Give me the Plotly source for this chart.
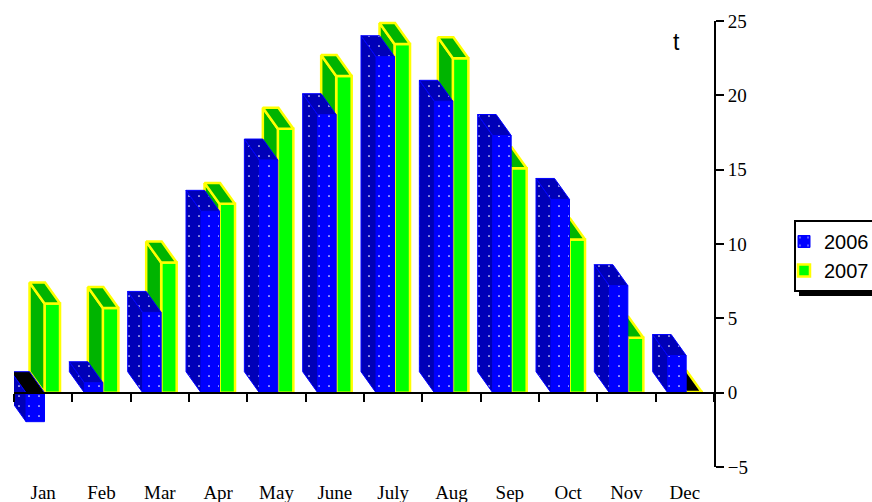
import plotly.graph_objects as go

months = ["Jan", "Feb", "Mar", "Apr", "May", "June", "July", "Aug", "Sep", "Oct", "Nov", "Dec"]
values_2006 = [-1.95, 0.67, 5.4, 12.2, 15.65, 18.7, 22.6, 19.6, 17.3, 13.0, 7.2, 2.5]
values_2007 = [6.0, 5.7, 8.75, 12.7, 17.75, 21.3, 23.45, 22.5, 15.1, 10.3, 3.7, 0.05]
y_ticks = [-5, 0, 5, 10, 15, 20, 25]

DX, DY = 0.257, 1.41  # apparent depth of each block, in axis units
BLUE_OFF, BLUE_W = 0.206, 0.317
GREEN_OFF, GREEN_W = 0.523, 0.266
idx = list(range(len(months)))

# page pixel -> paper fraction (plot area spans x 14..714, y 21..467 on the page)
def px(x):
    return (x - 14) / 700


def py(y):
    return (467 - y) / 446


def dots(bg):
    return dict(shape=".", size=10, solidity=0.022, fgcolor="white", bgcolor=bg, fillmode="replace")


def block_faces(fig, values, off, width, line, side_col, patterned, lw, xa, ya, name):
    for i, v in enumerate(values):
        x0, x1 = i + off, i + off + width
        top = max(v, 0)
        low = min(v, 0)
        side_x = [x0, x0, x0 - DX, x0 - DX, x0]
        side_y = [low, top, top + DY, low + DY, low]
        top_x = [x0, x1, x1 - DX, x0 - DX, x0]
        top_y = [top, top, top + DY, top + DY, top]
        flat = v <= 0.1
        for fx, fy, col in ((side_x, side_y, side_col), (top_x, top_y, "black" if flat else side_col)):
            kw = {}
            if patterned and col != "black":
                kw["fillpattern"] = dots(col)
            fig.add_trace(go.Scatter(
                x=fx, y=fy, mode="lines", fill="toself", fillcolor=col,
                line=dict(color=line, width=lw), showlegend=False, hoverinfo="skip",
                cliponaxis=False, xaxis=xa, yaxis=ya, name=name, **kw))


fig = go.Figure()

# 2007 in the back subplot
fig.add_trace(go.Bar(
    x=idx, y=values_2007, name="2007", offset=GREEN_OFF, width=GREEN_W,
    marker=dict(color="#00ff00", line=dict(color="#ffff00", width=2.5)),
    cliponaxis=False, xaxis="x", yaxis="y"))
block_faces(fig, values_2007, GREEN_OFF, GREEN_W, "#ffff00", "#00b400", False, 2.5, "x", "y", "2007")

# 2006 in the overlaid subplot, in front of the 2007 blocks
fig.add_trace(go.Bar(
    x=idx, y=values_2006, name="2006", offset=BLUE_OFF, width=BLUE_W,
    marker=dict(color="#0000ff", line=dict(color="#0000ff", width=1), pattern=dots("#0000ff")),
    cliponaxis=False, xaxis="x2", yaxis="y2"))
block_faces(fig, values_2006, BLUE_OFF, BLUE_W, "#0000ff", "#0000b8", True, 1, "x2", "y2", "2006")

serif = dict(family="Liberation Serif", size=19, color="black")

fig.update_layout(
    width=872, height=502, autosize=False,
    margin=dict(l=14, r=158, t=21, b=35, autoexpand=False),
    paper_bgcolor="white", plot_bgcolor="white",
    barmode="overlay",
    xaxis=dict(range=[0, 12], domain=[0, 1], anchor="free", position=1 / 6,
               tickmode="array", tickvals=idx + [12], showticklabels=False,
               ticks="outside", ticklen=8, tickwidth=2, tickcolor="black",
               showline=True, linecolor="black", linewidth=2, showgrid=False,
               zeroline=False, layer="above traces", automargin=False),
    xaxis2=dict(range=[0, 12], overlaying="x", anchor="free", position=0,
                tickmode="array", tickvals=[i + 0.5 for i in idx], ticktext=months,
                ticks="outside", ticklen=8, tickcolor="rgba(0,0,0,0)", tickfont=serif,
                showline=False, showgrid=False, zeroline=False, automargin=False),
    yaxis=dict(range=[-5, 25], side="right", tickmode="array", tickvals=y_ticks,
               ticks="outside", ticklen=8, tickwidth=2, tickcolor="black", tickfont=serif,
               showline=True, linecolor="black", linewidth=2, showgrid=False,
               zeroline=False, layer="above traces", automargin=False),
    yaxis2=dict(range=[-5, 25], overlaying="y", visible=False, showgrid=False, zeroline=False),
    showlegend=True,
    legend=dict(x=px(794), xanchor="left", y=py(220), yanchor="top",
                bgcolor="white", bordercolor="black", borderwidth=2,
                font=dict(family="Liberation Sans", size=20, color="black"),
                traceorder="reversed", itemwidth=30, indentation=-12,
                entrywidth=40, entrywidthmode="pixels"),
    annotations=[dict(text="t", xref="paper", yref="paper", x=px(676), y=py(42),
                      showarrow=False, xanchor="center", yanchor="middle",
                      font=dict(family="Liberation Sans", size=23, color="black"))],
    shapes=[dict(type="rect", xref="paper", yref="paper", x0=px(799), x1=px(872),
                 y0=py(296), y1=py(240),
                 fillcolor="black", line=dict(width=0))],
)

fig.write_html("out.html", post_script="document.body.style.margin='0';",
               config=dict(displayModeBar=False))
